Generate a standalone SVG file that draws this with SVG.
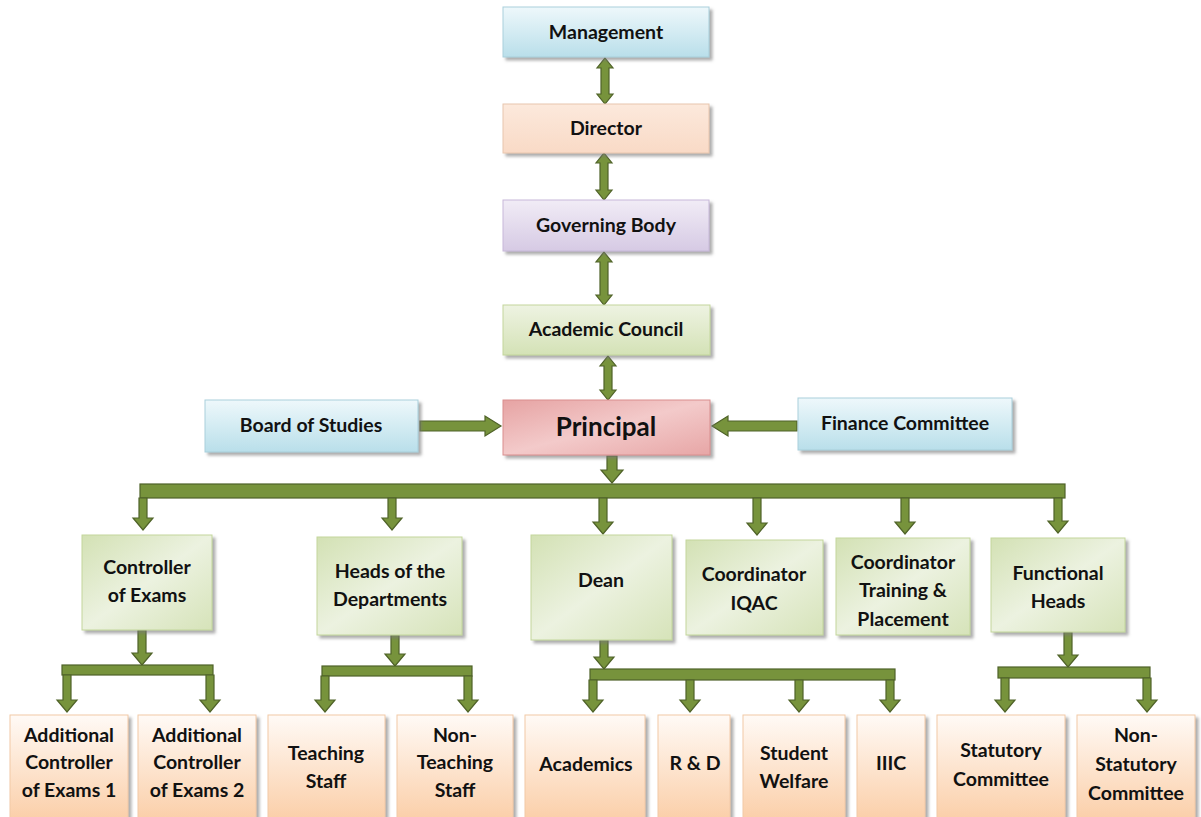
<svg xmlns="http://www.w3.org/2000/svg" width="1201" height="817" viewBox="0 0 1201 817">
<defs>
<linearGradient id="gBlue" x1="0" y1="0" x2="0" y2="1"><stop offset="0" stop-color="#eef8fb"/><stop offset="1" stop-color="#b9dfea"/></linearGradient>
<linearGradient id="gPeach" x1="0" y1="0" x2="0" y2="1"><stop offset="0" stop-color="#fce9dc"/><stop offset="1" stop-color="#f9dac6"/></linearGradient>
<linearGradient id="gLav" x1="0" y1="0" x2="0" y2="1"><stop offset="0" stop-color="#f1ecf6"/><stop offset="1" stop-color="#d6cae4"/></linearGradient>
<linearGradient id="gGreenH" x1="0" y1="0" x2="0" y2="1"><stop offset="0" stop-color="#eef3e2"/><stop offset="1" stop-color="#d4e2b6"/></linearGradient>
<linearGradient id="gPink" x1="0" y1="0" x2="1" y2="1"><stop offset="0" stop-color="#e6a3a3"/><stop offset="0.5" stop-color="#f3caca"/><stop offset="1" stop-color="#e7a6a6"/></linearGradient>
<linearGradient id="gGreen" x1="0" y1="0" x2="1" y2="1"><stop offset="0" stop-color="#d3e1b4"/><stop offset="0.5" stop-color="#ecf2e0"/><stop offset="1" stop-color="#d6e3b9"/></linearGradient>
<linearGradient id="gBot" x1="0" y1="0" x2="0" y2="1"><stop offset="0" stop-color="#fffaf6"/><stop offset="1" stop-color="#fbcfa9"/></linearGradient>
<filter id="sh" x="-10%" y="-10%" width="130%" height="130%"><feDropShadow dx="3" dy="3" stdDeviation="1.5" flood-color="#777" flood-opacity="0.6"/></filter>
</defs>
<style>
.box{filter:url(#sh);stroke-width:1}
.b{fill:url(#gBlue);stroke:#a9cfdb}
.p{fill:url(#gPeach);stroke:#e8c6ae}
.l{fill:url(#gLav);stroke:#c7b8d9}
.gh{fill:url(#gGreenH);stroke:#c3d69b}
.pk{fill:url(#gPink);stroke:#d98e8e}
.g{fill:url(#gGreen);stroke:#c3d69b}
.o{fill:url(#gBot);stroke:#f2c9a6}
text{font-family:Lato,"Open Sans","Liberation Sans",sans-serif;font-weight:bold;font-size:19.5px;fill:#111;text-anchor:middle}
.big{font-size:26px}
.ar{fill:#77933c;stroke:#4f6228;stroke-width:1.2;stroke-linejoin:miter}
</style>

<g id="connectors">
<polygon class="ar" points="605,58 613,68 609,68 609,94 613,94 605,104 597,94 601,94 601,68 597,68"/>
<polygon class="ar" points="604,153 612,163 608,163 608,190 612,190 604,200 596,190 600,190 600,163 596,163"/>
<polygon class="ar" points="604,252 612,262 608,262 608,295 612,295 604,305 596,295 600,295 600,262 596,262"/>
<polygon class="ar" points="608,356 616,366 612,366 612,390 616,390 608,400 600,390 604,390 604,366 600,366"/>
<polygon class="ar" points="420,421 485,421 485,416 501,426 485,436 485,431 420,431"/>
<polygon class="ar" points="797,421 728,421 728,416 712,426 728,436 728,431 797,431"/>
<polygon class="ar" points="607,456 617,456 617,470 623,470 612,483 601,470 607,470"/>
<rect class="ar" x="140" y="484" width="925" height="14"/>
<polygon class="ar" points="139,498 147,498 147,518 153,518 143,530 133,518 139,518"/>
<polygon class="ar" points="388,498 396,498 396,518 402,518 392,530 382,518 388,518"/>
<polygon class="ar" points="599,498 607,498 607,522 613,522 603,534 593,522 599,522"/>
<polygon class="ar" points="753,498 761,498 761,523 767,523 757,535 747,523 753,523"/>
<polygon class="ar" points="901,498 909,498 909,522 915,522 905,534 895,522 901,522"/>
<polygon class="ar" points="1054,498 1062,498 1062,521 1068,521 1058,533 1048,521 1054,521"/>

<polygon class="ar" points="138,630 146,630 146,653 152,653 142,665 132,653 138,653"/>
<rect class="ar" x="62" y="665" width="151" height="10"/>
<polygon class="ar" points="63,675 71,675 71,700 77,700 67,712 57,700 63,700"/>
<polygon class="ar" points="206,675 214,675 214,700 220,700 210,712 200,700 206,700"/>

<polygon class="ar" points="391,635 399,635 399,654 405,654 395,666 385,654 391,654"/>
<rect class="ar" x="322" y="666" width="150" height="10"/>
<polygon class="ar" points="321,676 329,676 329,700 335,700 325,712 315,700 321,700"/>
<polygon class="ar" points="464,676 472,676 472,700 478,700 468,712 458,700 464,700"/>

<polygon class="ar" points="600,640 608,640 608,657 614,657 604,669 594,657 600,657"/>
<rect class="ar" x="590" y="669" width="305" height="11"/>
<polygon class="ar" points="589,680 597,680 597,700 603,700 593,712 583,700 589,700"/>
<polygon class="ar" points="686,680 694,680 694,700 700,700 690,712 680,700 686,700"/>
<polygon class="ar" points="795,680 803,680 803,700 809,700 799,712 789,700 795,700"/>
<polygon class="ar" points="886,680 894,680 894,700 900,700 890,712 880,700 886,700"/>

<polygon class="ar" points="1064,632 1072,632 1072,655 1078,655 1068,667 1058,655 1064,655"/>
<rect class="ar" x="998" y="667" width="152" height="11"/>
<polygon class="ar" points="1001,678 1009,678 1009,700 1015,700 1005,712 995,700 1001,700"/>
<polygon class="ar" points="1143,678 1151,678 1151,700 1157,700 1147,712 1137,700 1143,700"/>
</g>

<g id="management"><rect class="box b" x="503" y="7" width="206" height="50"/><text x="606" y="39">Management</text></g>
<g id="director"><rect class="box p" x="503" y="104" width="206" height="49"/><text x="606" y="135">Director</text></g>
<g id="governing-body"><rect class="box l" x="503" y="200" width="206" height="51"/><text x="606" y="232">Governing Body</text></g>
<g id="academic-council"><rect class="box gh" x="503" y="305" width="207" height="50"/><text x="606" y="336">Academic Council</text></g>
<g id="board-of-studies"><rect class="box b" x="205" y="400" width="213" height="52"/><text x="311" y="432">Board of Studies</text></g>
<g id="principal"><rect class="box pk" x="503" y="400" width="207" height="55"/><text class="big" x="606" y="436">Principal</text></g>
<g id="finance-committee"><rect class="box b" x="798" y="398" width="214" height="52"/><text x="905" y="430">Finance Committee</text></g>

<g id="controller-of-exams"><rect class="box g" x="82" y="535" width="130" height="95"/><text x="147" y="574">Controller</text><text x="147" y="602">of Exams</text></g>
<g id="heads-of-departments"><rect class="box g" x="317" y="537" width="145" height="98"/><text x="390" y="578">Heads of the</text><text x="390" y="606">Departments</text></g>
<g id="dean"><rect class="box g" x="531" y="535" width="141" height="105"/><text x="601" y="587">Dean</text></g>
<g id="coordinator-iqac"><rect class="box g" x="686" y="540" width="137" height="95"/><text x="754" y="581">Coordinator</text><text x="754" y="610">IQAC</text></g>
<g id="coordinator-tp"><rect class="box g" x="836" y="538" width="134" height="97"/><text x="903" y="569">Coordinator</text><text x="903" y="597">Training &amp;</text><text x="903" y="626">Placement</text></g>
<g id="functional-heads"><rect class="box g" x="991" y="538" width="134" height="94"/><text x="1058" y="580">Functional</text><text x="1058" y="608">Heads</text></g>

<g id="add-controller-1"><rect class="box o" x="10" y="715" width="118" height="104"/><text x="69" y="742">Additional</text><text x="69" y="769">Controller</text><text x="69" y="797">of Exams 1</text></g>
<g id="add-controller-2"><rect class="box o" x="138" y="715" width="118" height="104"/><text x="197" y="742">Additional</text><text x="197" y="769">Controller</text><text x="197" y="797">of Exams 2</text></g>
<g id="teaching-staff"><rect class="box o" x="268" y="715" width="117" height="104"/><text x="326" y="760">Teaching</text><text x="326" y="788">Staff</text></g>
<g id="non-teaching-staff"><rect class="box o" x="397" y="715" width="116" height="104"/><text x="455" y="742">Non-</text><text x="455" y="769">Teaching</text><text x="455" y="797">Staff</text></g>
<g id="academics"><rect class="box o" x="525" y="715" width="120" height="104"/><text x="586" y="771">Academics</text></g>
<g id="r-and-d"><rect class="box o" x="658" y="715" width="72" height="104"/><text x="695" y="770">R &amp; D</text></g>
<g id="student-welfare"><rect class="box o" x="743" y="715" width="102" height="104"/><text x="794" y="760">Student</text><text x="794" y="788">Welfare</text></g>
<g id="iiic"><rect class="box o" x="857" y="715" width="68" height="104"/><text x="891" y="770">IIIC</text></g>
<g id="statutory-committee"><rect class="box o" x="937" y="715" width="128" height="104"/><text x="1001" y="757">Statutory</text><text x="1001" y="786">Committee</text></g>
<g id="non-statutory-committee"><rect class="box o" x="1077" y="715" width="118" height="104"/><text x="1136" y="742">Non-</text><text x="1136" y="771">Statutory</text><text x="1136" y="800">Committee</text></g>
</svg>
